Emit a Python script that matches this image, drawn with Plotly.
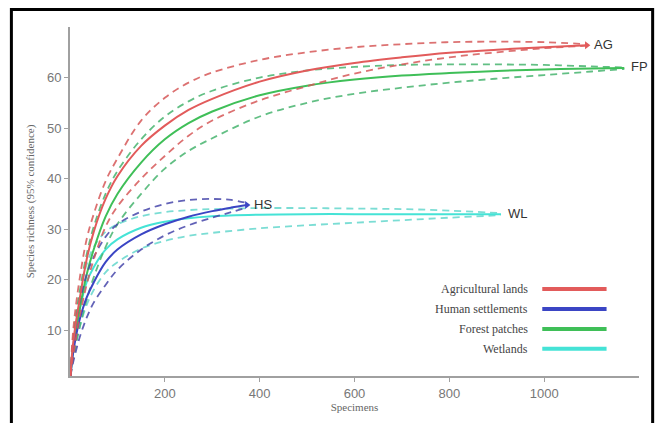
import plotly.graph_objects as go

# ---- data ----
ag_x = [1, 5, 10, 20, 35, 50, 75, 100, 150, 200, 250, 300, 400, 500, 600, 700, 800, 900, 1000, 1090]
ag_mid = [1, 6, 10, 16, 24, 29.5, 36, 40.5, 46.5, 50.5, 53.6, 55.8, 59.2, 61.4, 62.9, 64, 64.9, 65.5, 66, 66.4]
ag_up = [1, 8, 13, 20, 28, 33, 39.5, 44, 51.5, 56, 59, 61, 63.5, 65, 66, 66.6, 67, 67.1, 67, 66.6]
ag_lo = [1, 4, 7, 12.5, 19, 24, 30.5, 34.5, 40, 44.5, 48.5, 51.5, 55.5, 58.3, 60.8, 62.6, 64, 65, 65.8, 66.3]

fp_x = [1, 5, 10, 20, 35, 50, 75, 100, 150, 200, 250, 300, 400, 500, 600, 700, 800, 900, 1000, 1100, 1169]
fp_mid = [1, 5, 8.5, 14, 21, 26, 32.5, 37, 43.2, 47.8, 51, 53.3, 56.5, 58.4, 59.6, 60.4, 60.9, 61.3, 61.6, 61.8, 61.9]
fp_up = [1, 6, 11, 17.5, 25, 30.5, 37, 41.5, 47.8, 52.3, 55.3, 57.4, 60, 61.4, 62.1, 62.5, 62.6, 62.6, 62.5, 62.2, 62]
fp_lo = [1, 3.5, 6, 10.5, 16, 20.5, 26.5, 31, 37, 42, 45.5, 48, 52.3, 55, 56.8, 58, 59, 59.8, 60.5, 61.2, 61.7]

hs_x = [1, 5, 10, 20, 35, 50, 75, 100, 150, 200, 250, 300, 340, 373]
hs_mid = [1, 4.5, 7.5, 12, 16.5, 19.5, 23.5, 26, 29, 31, 32.5, 33.6, 34.3, 34.8]
hs_up = [1, 6, 10, 15.5, 21, 24.5, 28.5, 31, 33.5, 35, 35.8, 36, 35.8, 35.2]
hs_lo = [1, 3, 5, 8.5, 12.5, 15.5, 19, 22, 26, 28.8, 30.8, 32.3, 33.4, 34.3]

wl_x = [1, 5, 10, 20, 35, 50, 75, 100, 150, 200, 250, 300, 400, 500, 600, 700, 800, 909]
wl_mid = [1, 5.5, 9, 14, 19.5, 22.5, 26, 28, 30.3, 31.5, 32.2, 32.6, 32.9, 33, 33, 33, 33, 33]
wl_up = [1, 7, 11, 17, 23, 26.5, 29.5, 31, 32.6, 33.4, 33.8, 34, 34.2, 34.2, 34.1, 34, 33.7, 33.2]
wl_lo = [1, 4, 6.5, 10.5, 15, 18, 21.5, 23.5, 26.2, 27.7, 28.7, 29.3, 30.2, 30.8, 31.3, 31.8, 32.3, 32.8]

names = ["Agricultural lands", "Human settlements", "Forest patches", "Wetlands"]
codes = ["AG", "HS", "FP", "WL"]
x_ticks = [200, 400, 600, 800, 1000]
y_ticks = [10, 20, 30, 40, 50, 60]

colors = {"AG": "#e25b5b", "HS": "#3b45c4", "FP": "#3fbf58", "WL": "#45e3d6"}
dash_colors = {"AG": "rgba(214,88,88,0.85)", "HS": "rgba(70,70,170,0.85)",
               "FP": "rgba(70,180,110,0.85)", "WL": "rgba(100,215,205,0.85)"}

series = {
    "AG": (ag_x, ag_mid, ag_up, ag_lo),
    "HS": (hs_x, hs_mid, hs_up, hs_lo),
    "FP": (fp_x, fp_mid, fp_up, fp_lo),
    "WL": (wl_x, wl_mid, wl_up, wl_lo),
}

fig = go.Figure()
for code in ["WL", "FP", "HS", "AG"]:
    xs, mid, up, lo = series[code]
    for ys in (up, lo):
        fig.add_trace(go.Scatter(x=xs, y=ys, mode="lines", line_shape="spline",
                                 line=dict(color=dash_colors[code], width=1.8, dash="7px,5px"),
                                 showlegend=False, hoverinfo="skip"))
    fig.add_trace(go.Scatter(x=xs, y=mid, mode="lines", line_shape="spline",
                             line=dict(color=colors[code], width=2),
                             showlegend=False))
    if code in ("AG", "HS"):
        fig.add_trace(go.Scatter(x=[xs[-1]], y=[mid[-1]], mode="markers",
                                 marker=dict(symbol="triangle-right", size=7, color=colors[code]),
                                 showlegend=False, hoverinfo="skip"))

# end labels
for code in codes:
    xs, mid, up, lo = series[code]
    fig.add_annotation(x=xs[-1], y=mid[-1], text=code, showarrow=False, xanchor="left",
                       xshift=5, yshift=1,
                       font=dict(family="Liberation Sans, Arial", size=13, color="#333"))

# manual legend (text then line sample)
leg_y = [0.249, 0.192, 0.135, 0.078]
for i, code in enumerate(["AG", "HS", "FP", "WL"]):
    fig.add_annotation(xref="paper", yref="paper", x=0.808, y=leg_y[i], text=names[i],
                       showarrow=False, xanchor="right", yanchor="middle",
                       font=dict(family="Liberation Serif, serif", size=12, color="#444"))
    fig.add_shape(type="line", xref="paper", yref="paper", x0=0.83, x1=0.943,
                  y0=leg_y[i], y1=leg_y[i], line=dict(color=colors[code], width=4))

# outer black frame
fig.add_shape(type="rect", xref="paper", yref="paper", x0=-0.103, x1=1.024, y0=-0.3, y1=1.05,
              line=dict(color="black", width=3), layer="above")

fig.update_layout(
    width=662, height=423,
    margin=dict(l=70, r=23, t=27, b=44),
    paper_bgcolor="white", plot_bgcolor="white",
    showlegend=False,
    font=dict(family="Liberation Sans, Arial", color="#777"),
    xaxis=dict(range=[0, 1200], tickvals=x_ticks, showline=True, linecolor="#a0a0a0", linewidth=2,
               ticks="outside", ticklen=4, tickcolor="#a0a0a0", showgrid=False, zeroline=False,
               tickfont=dict(size=13, color="#777"),
               title=dict(text="Specimens", standoff=3,
                          font=dict(family="Liberation Serif, serif", size=11, color="#666"))),
    yaxis=dict(range=[1, 70], tickvals=y_ticks, showline=True, linecolor="#a0a0a0", linewidth=2,
               ticks="outside", ticklen=4, tickcolor="#a0a0a0", showgrid=False, zeroline=False,
               tickfont=dict(size=13, color="#777"),
               title=dict(text="Species richness (95% confidence)", standoff=10,
                          font=dict(family="Liberation Serif, serif", size=11, color="#666"))),
)

fig.write_html("out.html")
